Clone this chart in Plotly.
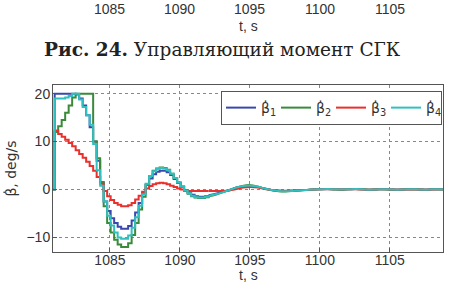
import numpy as np
import plotly.graph_objects as go

# time axis: start point, 0.25 s steps in transient, 0.5 s steps in tail
t_start = [1080.9]
t_fast = list(np.round(1081.05 + 0.25 * np.arange(45), 3))
t_slow = list(np.round(1092.05 + 0.5 * np.arange(35), 3))

b1_fast = [20, 20, 20, 20, 20, 20, 19.8, 19, 17.5, 15.5, 13, 10, 6, 1.5, -2.5, -4.5,
           -6, -7, -7.8, -8.2, -8.2, -7.6, -6.5, -4.8, -2.8, -0.8, 1.0, 2.3, 3.2, 3.7,
           3.9, 3.9, 3.6, 3.0, 2.2, 1.4, 0.6, -0.1, -0.7, -1.1, -1.4, -1.5, -1.5, -1.4, -1.2]
b2_fast = [12.0, 13.2, 14.5, 16.0, 17.5, 19.2, 20, 20, 20, 20, 20, 10, 6.5, 1.5, -3.5, -7,
           -9, -10.5, -11.5, -12, -12, -11.2, -9.5, -7, -4.2, -1.5, 1.0, 2.8, 3.9, 4.4,
           4.6, 4.5, 4.1, 3.3, 2.4, 1.4, 0.5, -0.3, -0.9, -1.4, -1.7, -1.8, -1.8, -1.6, -1.4]
b3_fast = [12.3, 11.6, 11.0, 10.4, 9.7, 9.0, 8.2, 7.4, 6.6, 5.8, 4.9, 3.9, 2.6, 1.2, -0.3, -1.4,
           -2.2, -2.8, -3.2, -3.5, -3.5, -3.3, -2.8, -2.1, -1.3, -0.5, 0.2, 0.7, 1.1, 1.3,
           1.4, 1.3, 1.1, 0.8, 0.5, 0.2, 0.0, -0.2, -0.3, -0.3, -0.3, -0.3, -0.3, -0.3, -0.3]
b4_fast = [19.0, 19.0, 19.0, 19.2, 19.5, 20, 20, 18.8, 17.2, 15.5, 13.5, 9.5, 4, 0.8, -2.5, -5.5,
           -7.5, -9, -10, -10.3, -10.3, -9.6, -8, -5.8, -3.4, -1.0, 1.2, 2.8, 3.8, 4.3,
           4.5, 4.4, 4.0, 3.3, 2.4, 1.5, 0.6, -0.2, -0.8, -1.3, -1.6, -1.7, -1.7, -1.5, -1.3]

# tail (smooth), starts at 1092.05 to join the transient
b1_slow = [-1.2, -0.9, -0.5, -0.1, 0.4, 0.6, 0.7, 0.5, 0.2, -0.1, -0.25, -0.3, -0.25, -0.15, -0.1,
           0.0, 0.05, 0.1, 0.05, 0.0, 0.05, 0.1, 0.05, -0.05, 0.0, 0.05, 0.0, -0.05, 0.0, 0.05,
           0.0, -0.05, 0.05, 0.05, 0.05]
b2_slow = [-1.4, -1.1, -0.6, -0.1, 0.4, 0.8, 0.9, 0.6, 0.2, -0.15, -0.35, -0.4, -0.3, -0.2, -0.1,
           0.0, 0.05, 0.1, 0.0, -0.05, 0.05, 0.1, 0.05, -0.05, 0.0, 0.05, -0.05, -0.05, 0.0, 0.05,
           0.0, -0.05, 0.05, 0.0, 0.05]
b3_slow = [-0.3, -0.3, -0.3, -0.2, 0.1, 0.4, 0.5, 0.4, 0.1, -0.1, -0.2, -0.25, -0.2, -0.15, -0.1,
           0.0, 0.05, 0.05, 0.05, 0.0, 0.05, 0.05, 0.0, -0.05, 0.0, 0.05, 0.0, -0.05, 0.0, 0.0,
           0.0, -0.05, 0.0, 0.05, 0.05]
b4_slow = [-1.3, -1.0, -0.6, -0.1, 0.4, 0.7, 0.8, 0.6, 0.2, -0.1, -0.3, -0.35, -0.3, -0.2, -0.1,
           0.0, 0.05, 0.1, 0.05, 0.0, 0.05, 0.1, 0.05, -0.05, 0.0, 0.05, 0.0, -0.05, 0.0, 0.05,
           0.0, -0.05, 0.05, 0.05, 0.05]

names = ["β̇<sub>1</sub>", "β̇<sub>2</sub>", "β̇<sub>3</sub>", "β̇<sub>4</sub>"]
fast = [b1_fast, b2_fast, b3_fast, b4_fast]
slow = [b1_slow, b2_slow, b3_slow, b4_slow]
colors = ["#3a48ad", "#3a8a3a", "#e8302c", "#30c0c0"]

x_ticks = [1085, 1090, 1095, 1100, 1105]
y_ticks = [-10, 0, 10, 20]
top_tick_labels = ["1085", "1090", "1095", "1100", "1105"]
caption_bold = "Рис. 24."
caption_text = "Управляющий момент СГК"

fig = go.Figure()
for name, f, s, c in zip(names, fast, slow, colors):
    fig.add_trace(go.Scatter(x=t_start + t_fast, y=[0] + f, mode="lines", name=name,
                             legendgroup=name, line=dict(color=c, width=2, shape="hv")))
    fig.add_trace(go.Scatter(x=t_slow, y=s, mode="lines", name=name, legendgroup=name,
                             showlegend=False, line=dict(color=c, width=2, shape="spline")))

tick_font = dict(family="Liberation Sans", size=14, color="#333")
axis_common = dict(showline=True, linecolor="#555", linewidth=1, mirror=True,
                   showgrid=True, gridcolor="#888", griddash="dot", gridwidth=1,
                   zeroline=False, ticks="inside", ticklen=4, tickcolor="#555",
                   tickfont=tick_font, automargin=False)

fig.update_xaxes(range=[1080.93, 1108.8], tickvals=x_ticks, ticklabelstandoff=-5,
                 **axis_common)
fig.update_yaxes(range=[-13.05, 21.8], tickvals=y_ticks, ticklabelstandoff=-1,
                 title=dict(text="β̇, deg/s", font=dict(family="DejaVu Sans", size=14, color="#333"),
                            standoff=6), **axis_common)

# x-axis title of this chart
fig.add_annotation(x=0.5, xref="paper", y=-0.138, yref="paper", text="t, s", showarrow=False,
                   yanchor="middle", font=tick_font)

# remnants of the previous figure above (tick labels and axis label)
for v, s in zip(x_ticks, top_tick_labels):
    fig.add_annotation(x=v, xref="x", y=1.458, yref="paper", text=s, showarrow=False,
                       yanchor="middle", font=tick_font)
fig.add_annotation(x=0.5, xref="paper", y=1.351, yref="paper", text="t, s", showarrow=False,
                   yanchor="middle", font=tick_font)
fig.add_annotation(x=0.434, xref="paper", y=1.214, yref="paper",
                   text=f"<b>{caption_bold}</b> {caption_text}", showarrow=False,
                   yanchor="middle", font=dict(family="DejaVu Serif", size=18.5, color="#222"))

fig.update_layout(
    width=449, height=295,
    margin=dict(l=53, r=6, t=85, b=43, autoexpand=False),
    paper_bgcolor="white", plot_bgcolor="white",
    showlegend=True,
    legend=dict(orientation="h", x=0.9975, xanchor="right", y=0.964, yanchor="top",
                bgcolor="white", bordercolor="#555", borderwidth=1,
                font=dict(family="DejaVu Sans", size=14, color="#333"),
                entrywidth=10, entrywidthmode="pixels", tracegroupgap=0),
)

fig.write_html("out.html", config={"displayModeBar": False},
               post_script="document.body.style.margin='0px';")
